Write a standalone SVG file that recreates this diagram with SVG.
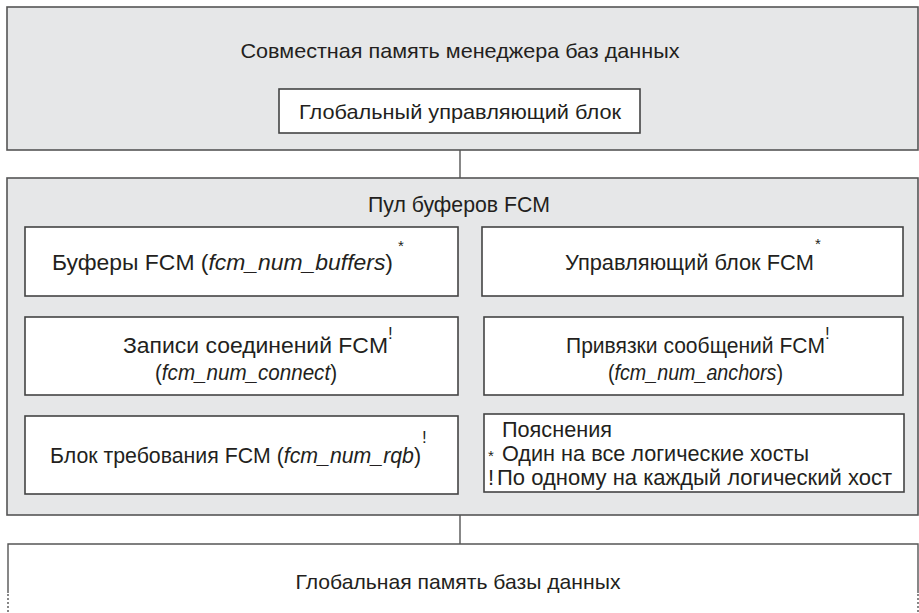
<svg xmlns="http://www.w3.org/2000/svg" width="919" height="613" viewBox="0 0 919 613">
<style>
.bg{fill:#e6e7e8;stroke:#555;stroke-width:1.6}
.box{fill:#fff;stroke:#444;stroke-width:1.6}
.t{font-family:"Liberation Sans",Arial,sans-serif;font-size:22px;fill:#231f20}
.tt{font-family:"Liberation Sans",Arial,sans-serif;font-size:21px;fill:#231f20}
.s{font-family:"Liberation Sans",Arial,sans-serif;font-size:15px;fill:#231f20}
.x{font-family:"Liberation Sans",Arial,sans-serif;font-size:17px;fill:#231f20}
.i{font-style:italic}
.c{text-anchor:middle}
.ln{stroke:#555;stroke-width:1.4;fill:none}
</style>
<rect width="919" height="613" fill="#fff"/>
<g id="shared-memory">
<rect class="bg" x="7" y="7" width="911" height="143"/>
<text class="tt c" x="460" y="58" textLength="439" lengthAdjust="spacingAndGlyphs">Совместная память менеджера баз данных</text>
</g>
<g id="global-control-block">
<rect class="box" x="279" y="89" width="361" height="44"/>
<text class="tt c" x="460" y="119" textLength="322" lengthAdjust="spacingAndGlyphs">Глобальный управляющий блок</text>
</g>
<g id="connectors">
<line class="ln" x1="460" y1="150" x2="460" y2="178"/>
<line class="ln" x1="460" y1="515" x2="460" y2="544"/>
</g>
<g id="fcm-pool">
<rect class="bg" x="7" y="178" width="911" height="337"/>
<text class="t c" x="459" y="212" textLength="182" lengthAdjust="spacingAndGlyphs">Пул буферов FCM</text>
</g>
<g id="fcm-buffers">
<rect class="box" x="25" y="227" width="433" height="69"/>
<text class="t" x="52" y="270" textLength="341" lengthAdjust="spacingAndGlyphs">Буферы FCM (<tspan class="i">fcm_num_buffers</tspan>)</text>
<text class="s" x="398" y="251">*</text>
</g>
<g id="fcm-control-block">
<rect class="box" x="482" y="227" width="421" height="69"/>
<text class="t" x="565" y="270" textLength="249" lengthAdjust="spacingAndGlyphs">Управляющий блок FCM</text>
<text class="s" x="815" y="249">*</text>
</g>
<g id="fcm-connections">
<rect class="box" x="25" y="317" width="433" height="78"/>
<text class="t" x="123" y="353" textLength="265" lengthAdjust="spacingAndGlyphs">Записи соединений FCM</text>
<text class="x" x="388" y="339">!</text>
<text class="t" x="155" y="380" textLength="182" lengthAdjust="spacingAndGlyphs">(<tspan class="i">fcm_num_connect</tspan>)</text>
</g>
<g id="fcm-anchors">
<rect class="box" x="484" y="317" width="419" height="78"/>
<text class="t" x="566" y="353" textLength="259" lengthAdjust="spacingAndGlyphs">Привязки сообщений FCM</text>
<text class="x" x="825" y="339">!</text>
<text class="t" x="608" y="380" textLength="175" lengthAdjust="spacingAndGlyphs">(<tspan class="i">fcm_num_anchors</tspan>)</text>
</g>
<g id="fcm-request-block">
<rect class="box" x="25" y="416" width="433" height="78"/>
<text class="t" x="50" y="463" textLength="371" lengthAdjust="spacingAndGlyphs">Блок требования FCM (<tspan class="i">fcm_num_rqb</tspan>)</text>
<text class="x" x="422" y="443">!</text>
</g>
<g id="legend">
<rect class="box" x="484" y="414" width="420" height="78"/>
<text class="t" x="502" y="437" textLength="110" lengthAdjust="spacingAndGlyphs">Пояснения</text>
<text class="s" x="488" y="461">*</text>
<text class="t" x="502" y="461" textLength="307" lengthAdjust="spacingAndGlyphs">Один на все логические хосты</text>
<text class="t" x="488" y="485">!</text>
<text class="t" x="497" y="485" textLength="395" lengthAdjust="spacingAndGlyphs">По одному на каждый логический хост</text>
</g>
<g id="global-db-memory">
<path class="ln" d="M8,593 V544 H918 V593"/>
<path class="ln" d="M8,594 V613 M918,594 V613" stroke-dasharray="2 2"/>
<text class="tt c" x="458" y="589" textLength="325" lengthAdjust="spacingAndGlyphs">Глобальная память базы данных</text>
</g>
</svg>
